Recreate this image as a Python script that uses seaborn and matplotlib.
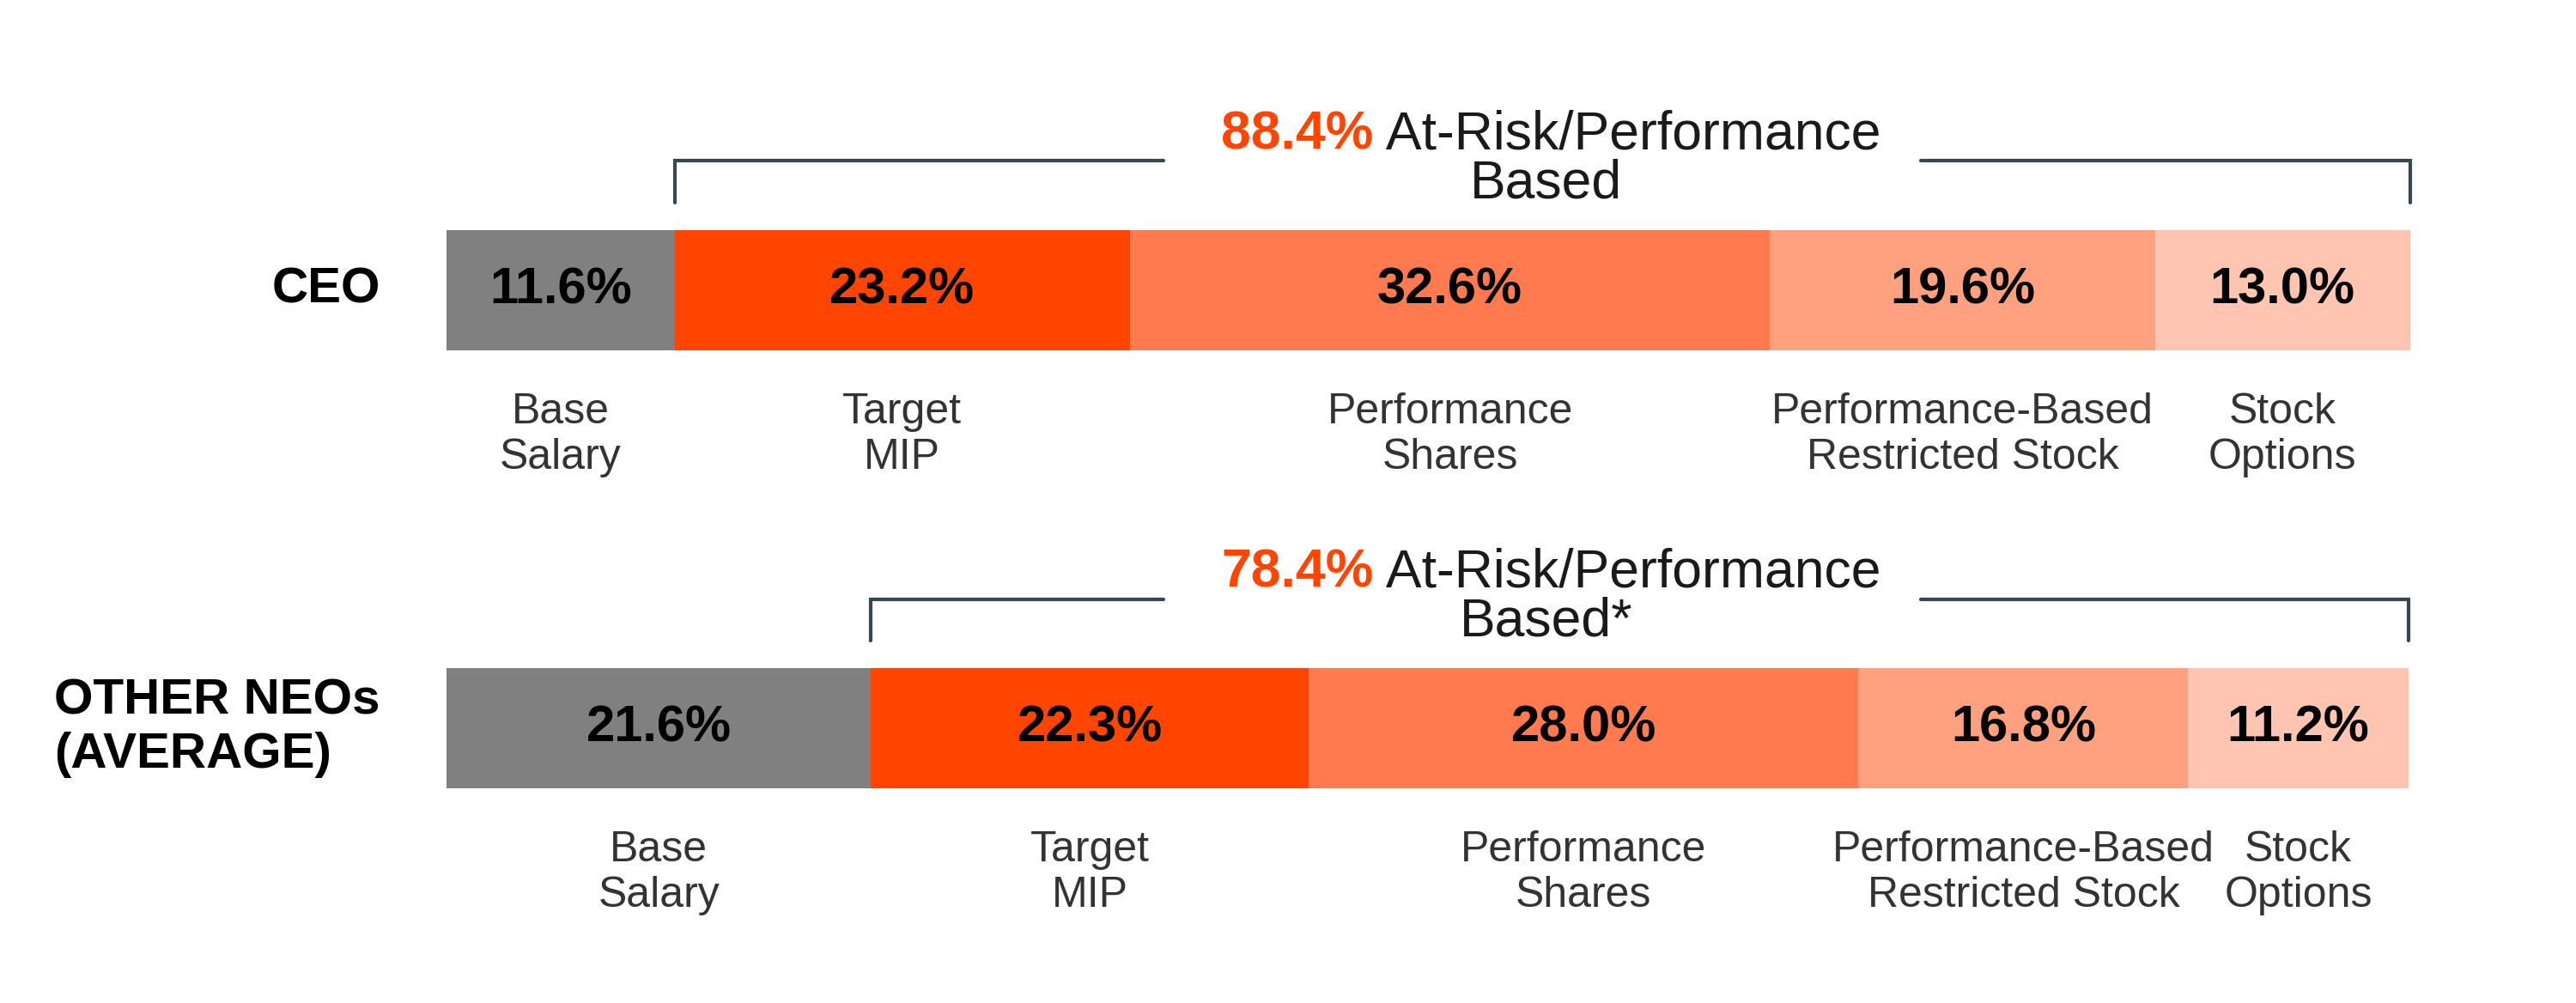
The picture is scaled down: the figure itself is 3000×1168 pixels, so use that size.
import pandas as pd
import matplotlib.pyplot as plt
import seaborn as sns

# data
rows = ["CEO", "OTHER NEOs\n(AVERAGE)"]
components = ["Base\nSalary", "Target\nMIP", "Performance\nShares",
              "Performance-Based\nRestricted Stock", "Stock\nOptions"]
ceo_pct = [11.6, 23.2, 32.6, 19.6, 13.0]
neo_pct = [21.6, 22.3, 28.0, 16.8, 11.2]
at_risk_pct = ["88.4%", "78.4%"]
at_risk_text = " At-Risk/Performance"
at_risk_line2 = ["Based", "Based*"]

colors = ["#808080", "#FF4500", "#FF7B4F", "#FFA07F", "#FFC5B1"]

sns.set_theme(style="white")
plt.rcParams["font.family"] = ["Liberation Sans", "DejaVu Sans"]

# long table with cumulative ends for stacked bars
recs = []
for r, vals in zip(rows, [ceo_pct, neo_pct]):
    cum = 0
    for c, v in zip(components, vals):
        cum += v
        recs.append({"row": r, "component": c, "value": v, "end": cum})
df = pd.DataFrame(recs)

fig = plt.figure(figsize=(15, 5.84), dpi=200)
ax = fig.add_axes([0, 0, 1, 1])

sns.barplot(data=df, x="end", y="row", hue="component", order=rows,
            hue_order=components[::-1], palette=dict(zip(components, colors)),
            dodge=False, width=0.274, linewidth=0, saturation=1,
            legend=False, ax=ax)

ax.set_xlim(-22.76, 108.45)
ax.set_ylim(1.627, -0.662)
ax.axis("off")

bracket_col = "#37474F"
for i, r in enumerate(rows):
    sub = df[df["row"] == r]
    # row label
    ax.text(-3.4, i, r, ha="right", va="center", multialignment="left",
            fontsize=21, fontweight="bold", color="black")
    # values and labels
    for _, s in sub.iterrows():
        xc = s["end"] - s["value"] / 2
        ax.text(xc, i, f"{s['value']:.1f}%", ha="center", va="center",
                fontsize=21.5, fontweight="bold", color="black")
        ax.text(xc, i + 0.33, s["component"], ha="center", va="center",
                fontsize=18, color="#333333", linespacing=1.2)
    # bracket over at-risk part
    x0 = sub["end"].iloc[0]
    x1 = sub["end"].iloc[-1]
    yb, yt = i - 0.20, i - 0.295
    ax.plot([x0, x0, 36.5], [yb, yt, yt], color=bracket_col, lw=1.5,
            solid_joinstyle="miter")
    ax.plot([75.1, x1, x1], [yt, yt, yb], color=bracket_col, lw=1.5,
            solid_joinstyle="miter")
    ax.text(47.2, i - 0.355, at_risk_pct[i], ha="right", va="center",
            fontsize=22.5, fontweight="bold", color="#FF4500")
    ax.text(47.2, i - 0.355, at_risk_text, ha="left", va="center",
            fontsize=22.5, color="#1a1a1a")
    ax.text(56.0, i - 0.243, at_risk_line2[i], ha="center", va="center",
            fontsize=22.5, color="#1a1a1a")

fig.savefig("out.png", dpi=200, facecolor="white")
